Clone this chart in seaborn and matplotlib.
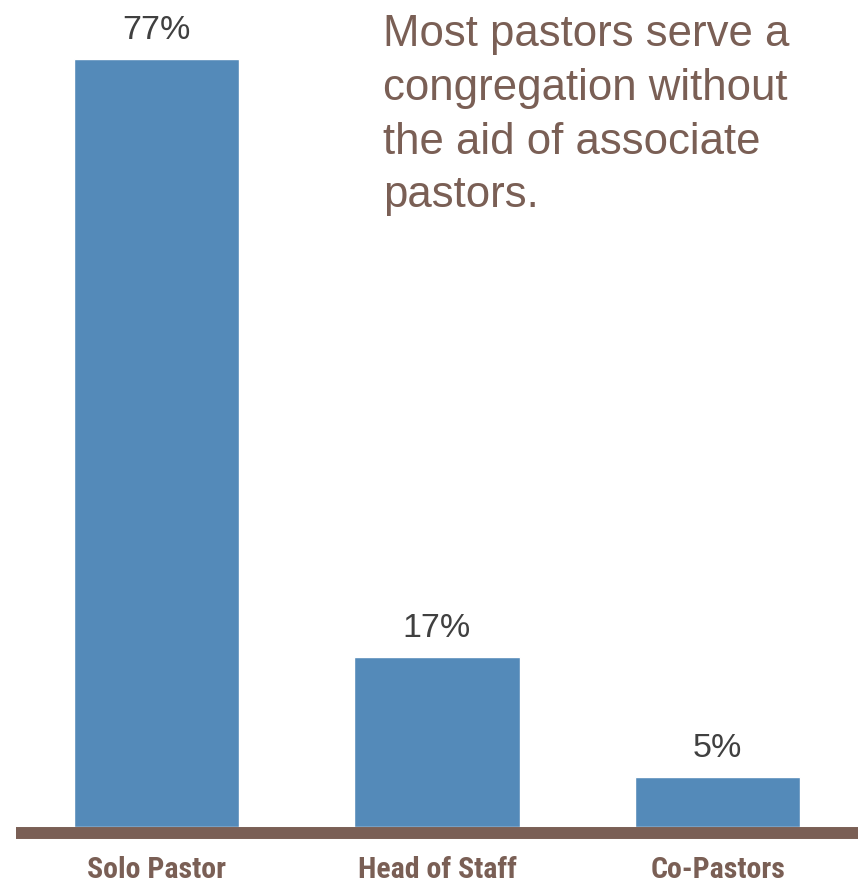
import matplotlib
matplotlib.use("Agg")
import matplotlib.pyplot as plt
import seaborn as sns

# Pastoral staffing structures (% of pastors)
categories = ["Solo Pastor", "Head of Staff", "Co-Pastors"]
values = [77, 17, 5]
value_labels = ["77%", "17%", "5%"]
headline = "Most pastors serve a\ncongregation without\nthe aid of associate\npastors."

BAR_BLUE = "#548AB9"
BROWN = "#7A5F55"
LABEL_GREY = "#404040"

sns.set_theme(style="white")
plt.rcParams["font.family"] = ["Liberation Sans", "DejaVu Sans"]

W, H = 861, 884
fig = plt.figure(figsize=(W / 100, H / 100), dpi=100)
ax = fig.add_axes([16 / W, 51 / H, 842 / W, 833 / H])

sns.barplot(x=categories, y=values, color=BAR_BLUE, saturation=1,
            width=0.59, ax=ax, zorder=2)

ax.set_xlim(-0.5, 2.5)
ax.set_ylim(-0.6, 82.92)

for spine in ["top", "right", "left"]:
    ax.spines[spine].set_visible(False)
base = ax.spines["bottom"]
base.set_color(BROWN)
base.set_linewidth(8.6)
base.set_capstyle("butt")
base.set_zorder(3)
ax.set_yticks([])
ax.set_xlabel("")
ax.set_ylabel("")

ax.tick_params(axis="x", length=0, pad=16.5)
for lbl in ax.get_xticklabels():
    lbl.set_family(["Roboto Condensed", "Liberation Sans Narrow", "Roboto"])
    lbl.set_fontweight("bold")
    lbl.set_fontstretch("condensed")
    lbl.set_fontsize(21.5)
    lbl.set_color(BROWN)

for i, (v, txt) in enumerate(zip(values, value_labels)):
    ax.annotate(txt, xy=(i, v), xytext=(0, 14.4), textcoords="offset points",
                ha="center", va="baseline", fontsize=24.5, color=LABEL_GREY)

fig.text(383 / W, 1 - 14 / H, headline, ha="left", va="top",
         fontsize=31.5, color=BROWN, linespacing=1.4)

fig.savefig("out.png", dpi=100, facecolor="white")
